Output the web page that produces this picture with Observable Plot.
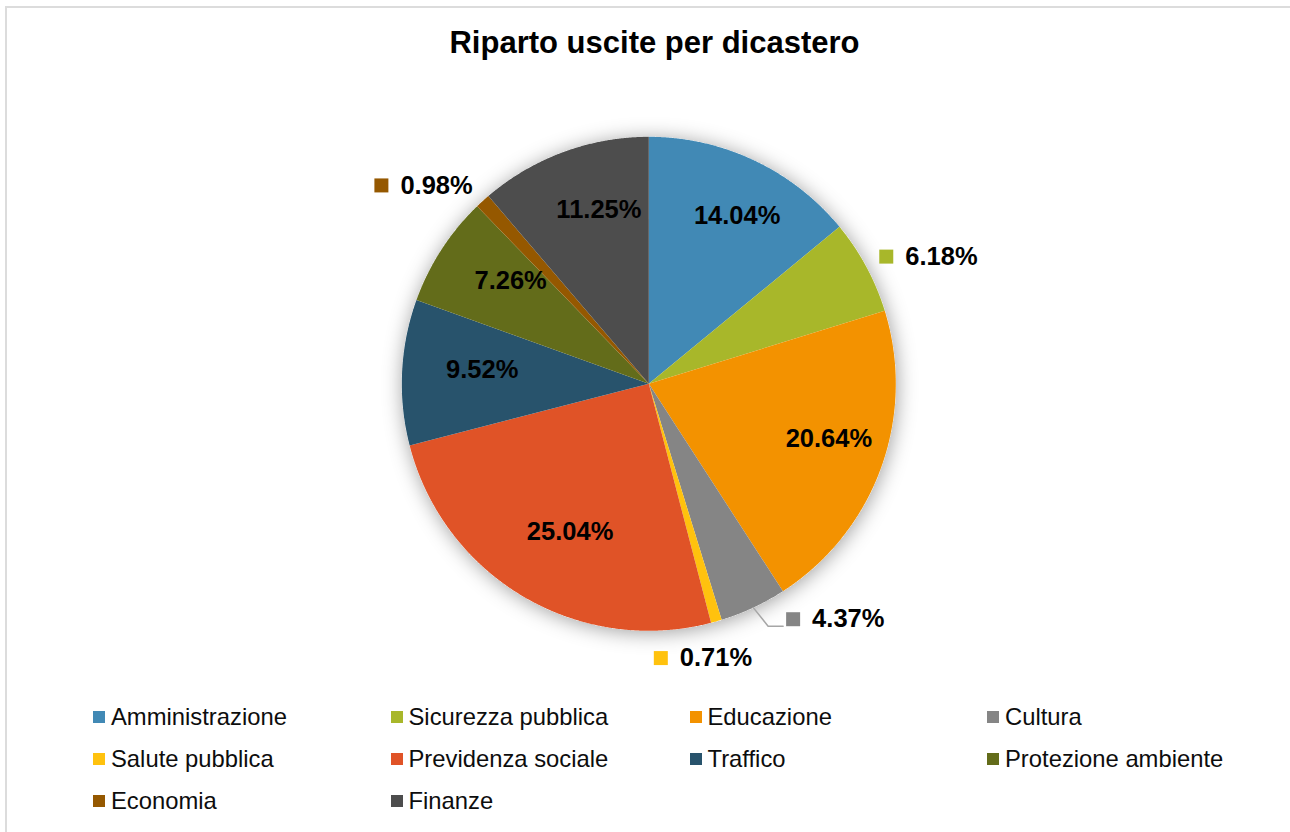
<!DOCTYPE html>
<html>
<head>
<meta charset="utf-8">
<script src="https://cdn.jsdelivr.net/npm/d3@7"></script>
<script src="https://cdn.jsdelivr.net/npm/@observablehq/plot@0.6"></script>
<style>
  html, body { margin: 0; padding: 0; background: #fff; overflow: hidden; }
  body { width: 1290px; height: 832px; position: relative; font-family: "Liberation Sans", Arial, sans-serif; color: #0d0d0d; }
  #frame { position: absolute; left: 5px; top: 6px; width: 1310px; height: 850px; border: 2px solid #dcdcdc; box-sizing: border-box; }
  #title { position: absolute; left: 0; top: 27px; width: 1309px; text-align: center; font-weight: bold; font-size: 31px; line-height: 31px; color: #000; }
  #chart { position: absolute; left: 0; top: 0; }
  #legend { position: absolute; left: 93px; top: 696px; display: grid; grid-template-columns: 297.5px 299px 297.5px 300px; grid-auto-rows: 42px; }
  .item { position: relative; height: 42px; line-height: 42px; font-size: 23.8px; white-space: nowrap; }
  .item .sw { position: absolute; left: 0; top: 15px; width: 12px; height: 12px; }
  .item .tx { position: absolute; left: 18px; top: 0; }
</style>
</head>
<body>
<div id="frame"></div>
<div id="chart"></div>
<div id="title">Riparto uscite per dicastero</div>
<div id="legend"></div>
<script>
// ---- data ----
const categories = ["Amministrazione", "Sicurezza pubblica", "Educazione", "Cultura", "Salute pubblica",
  "Previdenza sociale", "Traffico", "Protezione ambiente", "Economia", "Finanze"];
const shares = [14.04, 6.18, 20.64, 4.37, 0.71, 25.04, 9.52, 7.26, 0.98, 11.25];
const colors = ["#4189B5", "#A8B72A", "#F39200", "#858585", "#FFC20E",
  "#E05327", "#28536C", "#636C1A", "#955800", "#4D4D4D"];
const valueLabels = shares.map(v => v.toFixed(2) + "%");

// ---- layout constants ----
const CX = 648.3, CY = 383.3, R = 247;
const LABEL_FONT = 25.5;
const OUTSIDE_THRESHOLD = 7;
const FONT = "'Liberation Sans', Arial, sans-serif";

const total = d3.sum(shares);
const TAU = Math.PI * 2;
let acc = 0;
const slices = categories.map((name, i) => {
  const a0 = acc / total * TAU;
  acc += shares[i];
  const a1 = acc / total * TAU;
  return {name, i, a0, a1, mid: (a0 + a1) / 2, value: shares[i], label: valueLabels[i], color: colors[i]};
});

// polygon points (unit coordinates, y up)
function arcPoints(a0, a1, key) {
  const pts = [{key, x: 0, y: 0}];
  const n = Math.max(2, Math.ceil((a1 - a0) / 0.004));
  for (let k = 0; k <= n; k++) {
    const a = a0 + (a1 - a0) * k / n;
    pts.push({key, x: Math.sin(a), y: Math.cos(a)});
  }
  pts.push({key, x: 0, y: 0});
  return pts;
}
const slicePts = slices.flatMap(s => arcPoints(s.a0, s.a1, s.name));
const discPts = arcPoints(0, TAU, "disc").slice(1, -1);

// px offset (y down) -> unit
const ux = dx => dx / R, uy = dy => -dy / R;

// inside labels
const inside = slices.filter(s => s.value >= OUTSIDE_THRESHOLD).map(s => {
  const r = 0.724 * R;
  return {name: s.name, label: s.label, x: ux(r * Math.sin(s.mid) + 12), y: uy(-r * Math.cos(s.mid) - 6)};
});

// outside labels
const ctx = document.createElement("canvas").getContext("2d");
ctx.font = `bold ${LABEL_FONT}px ${FONT}`;
const boxH = 25;
const RL = 1.06 * R;
const outside = slices.filter(s => s.value < OUTSIDE_THRESHOLD).map(s => {
  const sn = Math.sin(s.mid), cs = Math.cos(s.mid);
  const w = 14 + 12 + ctx.measureText(s.label).width;
  const px = RL * sn, py = -RL * cs;
  const cx = Math.abs(sn) > 0.6 ? px + Math.sign(sn) * w / 2 : px + w / 2 * sn;
  const cy = py - boxH / 2 * cs * 0.5;
  return {...s, w, cx, cy, cx0: cx, left: cx - w / 2, right: cx + w / 2};
});
// resolve collisions in lower half: spread neighbours horizontally, then sit them on the label circle
const lower = outside.filter(o => Math.cos(o.mid) < 0).sort((a, b) => b.mid - a.mid);
for (let k = 1; k < lower.length; k++) {
  const prev = lower[k - 1], cur = lower[k];   // prev is left, cur is right
  const gap = 34;
  const overlapX = cur.left < prev.right + gap && cur.right > prev.left;
  const overlapY = Math.abs(cur.cy - prev.cy) < boxH;
  if (overlapX && overlapY) {
    const shift = prev.right + gap - cur.left;
    cur.left += shift * 0.64; cur.right += shift * 0.64; cur.cx += shift * 0.64;
    prev.left -= shift * 0.36; prev.right -= shift * 0.36; prev.cx -= shift * 0.36;
  }
}
lower.forEach(o => {
  const xn = o.left > 0 ? o.left : (o.right < 0 ? -o.right : 0);
  o.cy = Math.sqrt(Math.max(RL * RL - xn * xn, 0)) + boxH / 2;
});
// leader lines for labels pushed well away from their slice
const leaderPts = [];
outside.forEach(o => {
  if (Math.abs(o.cx - o.cx0) > 40) {
    const ax = R * Math.sin(o.mid), ay = -R * Math.cos(o.mid);
    const right = o.cx > ax;
    const ex = right ? o.left - 3 : o.right + 3;
    const bx = right ? o.left - 18 : o.right + 18;
    leaderPts.push({key: o.name, x: ux(ax), y: uy(ay)});
    leaderPts.push({key: o.name, x: ux(bx), y: uy(o.cy + 7)});
    leaderPts.push({key: o.name, x: ux(ex), y: uy(o.cy + 7)});
  }
});
const outsideMarks = outside.map(o => ({
  name: o.name, label: o.label,
  mx: ux(o.left + 7), tx: ux(o.left + 26), y: uy(o.cy)
}));

const plot = Plot.plot({
  width: 1290, height: 832, margin: 0,
  style: {fontFamily: FONT, background: "transparent", overflow: "visible"},
  x: {domain: [-1, 1], range: [CX - R, CX + R], axis: null},
  y: {domain: [-1, 1], range: [CY + R, CY - R], axis: null},
  color: {domain: categories, range: colors},
  marks: [
    Plot.line(discPts, {x: "x", y: "y", fill: "#fff", stroke: "none"}),
    Plot.line(slicePts, {x: "x", y: "y", z: "key", fill: "key", stroke: "none"}),
    Plot.line(leaderPts, {x: "x", y: "y", z: "key", stroke: "#a6a6a6", strokeWidth: 1.5}),
    Plot.text(inside, {x: "x", y: "y", text: "label", fontSize: LABEL_FONT, fontWeight: "bold", fill: "#000"}),
    Plot.dot(outsideMarks, {x: "mx", y: "y", symbol: "square", r: 14 / Math.sqrt(Math.PI), fill: "name", stroke: "none"}),
    Plot.text(outsideMarks, {x: "tx", y: "y", text: "label", textAnchor: "start", fontSize: LABEL_FONT, fontWeight: "bold", fill: "#000"})
  ]
});
document.getElementById("chart").appendChild(plot);

// soft shadow under the pie disc
const svg = d3.select(plot);
const f = svg.insert("defs", ":first-child").append("filter")
  .attr("id", "pieShadow").attr("x", "-20%").attr("y", "-20%").attr("width", "140%").attr("height", "140%");
f.append("feDropShadow").attr("dx", 1).attr("dy", 2).attr("stdDeviation", 10)
  .attr("flood-color", "#000").attr("flood-opacity", 0.38);
const firstLine = plot.querySelector('g[aria-label="line"]');
if (firstLine) firstLine.setAttribute("filter", "url(#pieShadow)");

// legend
const legend = d3.select("#legend");
categories.forEach((c, i) => {
  const it = legend.append("div").attr("class", "item");
  it.append("div").attr("class", "sw").style("background", colors[i]);
  it.append("div").attr("class", "tx").text(c);
});
</script>
</body>
</html>
